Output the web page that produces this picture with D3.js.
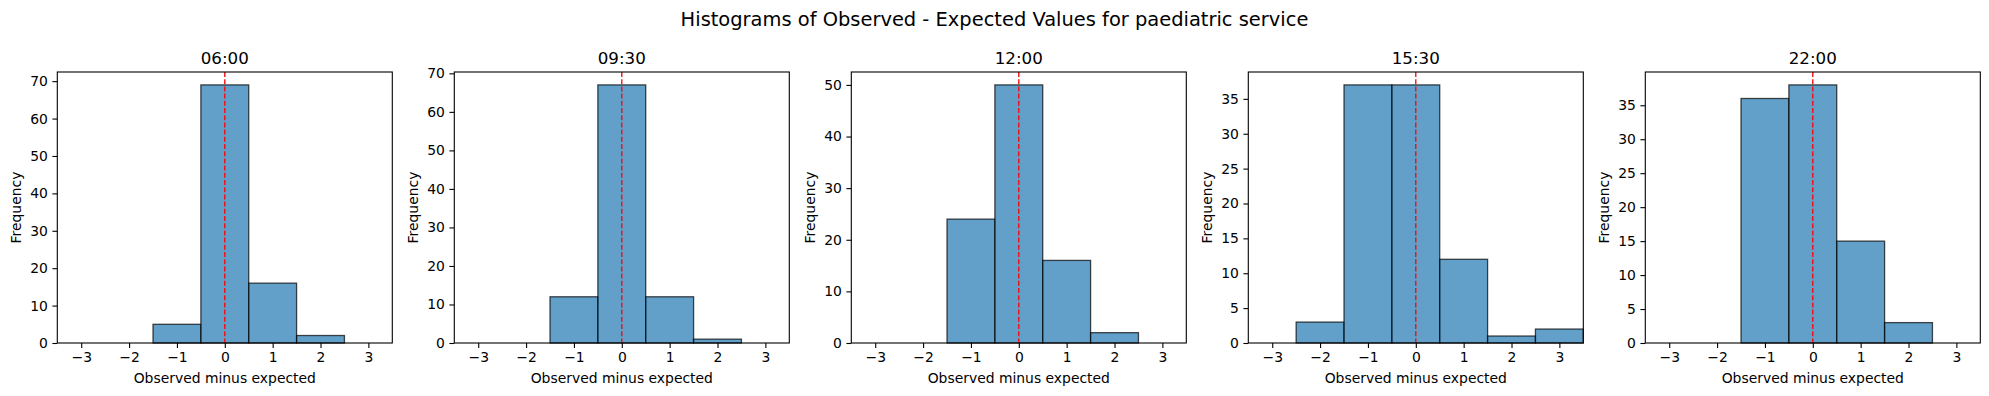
<!DOCTYPE html>
<html>
<head>
<meta charset="utf-8">
<script src="https://cdn.jsdelivr.net/npm/d3@7"></script>
<style>
  body { margin: 0; background: #fff; }
  svg { display: block; font-family: "DejaVu Sans", sans-serif; }
</style>
</head>
<body>
<svg id="chart" width="1989" height="396"></svg>
<script>
// chart data
const suptitle = "Histograms of Observed - Expected Values for paediatric service";
const panelTitles = ["06:00", "09:30", "12:00", "15:30", "22:00"];
const binCentres = [-3, -2, -1, 0, 1, 2, 3];
const counts0600 = [0, 0, 5, 69, 16, 2, 0];
const counts0930 = [0, 0, 12, 67, 12, 1, 0];
const counts1200 = [0, 0, 24, 50, 16, 2, 0];
const counts1530 = [0, 3, 37, 37, 12, 1, 2];
const counts2200 = [0, 0, 36, 38, 15, 3, 0];
const xTicks = [-3, -2, -1, 0, 1, 2, 3];
const yTickSteps = [10, 10, 10, 5, 5];

const allCounts = [counts0600, counts0930, counts1200, counts1530, counts2200];

const svg = d3.select("#chart");

const axW = 335, axTop = 72, axBottom = 343;
const firstLeft = 57.3, panelGap = 397;

svg.append("text")
  .attr("x", 994.5)
  .attr("y", 25.5)
  .attr("text-anchor", "middle")
  .style("font-size", "19.44px")
  .text(suptitle);

allCounts.forEach((counts, i) => {
  const left = firstLeft + i * panelGap;
  const g = svg.append("g").attr("transform", "translate(" + left + "," + axTop + ")");
  const h = axBottom - axTop;

  const x = d3.scaleLinear().domain([-3.5, 3.5]).range([0, axW]);
  const yMax = d3.max(counts) * 1.05;
  const y = d3.scaleLinear().domain([0, yMax]).range([h, 0]);
  const yTicks = d3.range(0, yMax, yTickSteps[i]);

  // bars
  g.selectAll("rect.bar")
    .data(binCentres.map((c, j) => ({c: c, n: counts[j]})))
    .enter()
    .append("rect")
    .attr("class", "bar")
    .attr("x", d => x(d.c - 0.5))
    .attr("width", d => x(d.c + 0.5) - x(d.c - 0.5))
    .attr("y", d => y(d.n))
    .attr("height", d => y(0) - y(d.n))
    .attr("fill", "#1f77b4")
    .attr("fill-opacity", 0.7)
    .attr("stroke", "#000")
    .attr("stroke-opacity", 0.7)
    .attr("stroke-width", 1.3);

  // zero line
  g.append("line")
    .attr("x1", x(0)).attr("x2", x(0))
    .attr("y1", 0).attr("y2", h)
    .attr("stroke", "red")
    .attr("stroke-width", 1.3)
    .attr("stroke-dasharray", "5,2.2");

  // axes
  const xAxis = g.append("g")
    .attr("transform", "translate(0," + h + ")")
    .call(d3.axisBottom(x).tickValues(xTicks).tickSize(4.9).tickPadding(4.5).tickFormat(d3.format("d")));
  const yAxis = g.append("g")
    .call(d3.axisLeft(y).tickValues(yTicks).tickSize(4.9).tickPadding(4.5).tickFormat(d3.format("d")));

  [xAxis, yAxis].forEach(a => {
    a.select(".domain").remove();
    a.selectAll("line").attr("stroke", "#000").attr("stroke-width", 1.1);
    a.selectAll("text").attr("fill", "#000").style("font-size", "13.9px").style("font-family", "DejaVu Sans");
  });

  // frame
  g.append("rect")
    .attr("width", axW).attr("height", h)
    .attr("fill", "none")
    .attr("stroke", "#000")
    .attr("stroke-width", 1.1);

  g.append("text")
    .attr("x", axW / 2)
    .attr("y", -8)
    .attr("text-anchor", "middle")
    .style("font-size", "16.7px")
    .text(panelTitles[i]);

  g.append("text")
    .attr("x", axW / 2)
    .attr("y", 383 - axTop)
    .attr("text-anchor", "middle")
    .style("font-size", "13.9px")
    .text("Observed minus expected");

  g.append("text")
    .attr("transform", "translate(-36," + (h / 2) + ") rotate(-90)")
    .attr("text-anchor", "middle")
    .style("font-size", "13.9px")
    .text("Frequency");
});
</script>
</body>
</html>
